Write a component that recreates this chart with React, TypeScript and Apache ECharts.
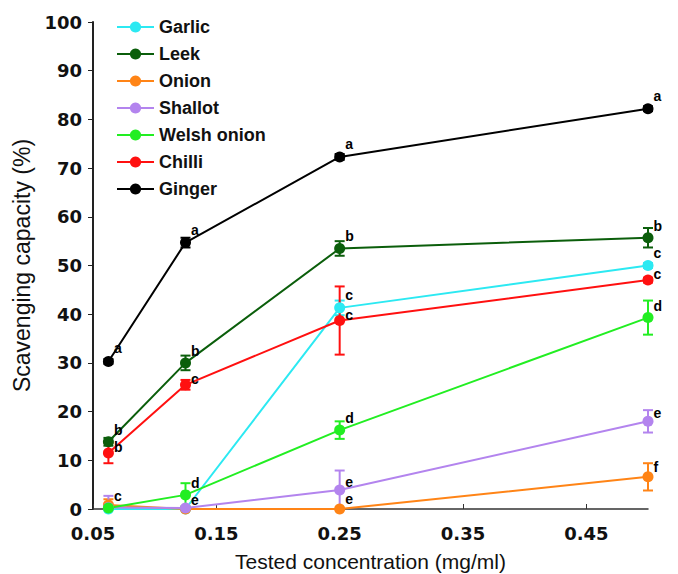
import React, { useEffect, useRef } from 'react';
import * as echarts from 'echarts';

const concentrations = [0.0625, 0.125, 0.25, 0.5];
const seriesNames = ['Garlic', 'Leek', 'Onion', 'Shallot', 'Welsh onion', 'Chilli', 'Ginger'];
const seriesColors = ['#2ce9f2', '#0b5e0b', '#ff8416', '#b384ee', '#22ee22', '#ff1010', '#000000'];

const garlic = [0, 0, 41.3, 50.0];
const leek = [13.8, 30.0, 53.5, 55.7];
const onion = [0.8, 0, 0, 6.6];
const shallot = [0.3, 0.2, 3.9, 18.0];
const welshOnion = [0.2, 2.9, 16.2, 39.3];
const chilli = [11.5, 25.5, 38.7, 47.0];
const ginger = [30.3, 54.7, 72.3, 82.2];

const garlicErr = [0, 0, 1.5, 0.5];
const leekErr = [0.8, 1.5, 1.5, 2.0];
const onionErr = [1.2, 0, 0, 2.8];
const shallotErr = [2.4, 0.3, 4.0, 2.3];
const welshOnionErr = [0.3, 2.4, 1.8, 3.5];
const chilliErr = [2.1, 1.0, 7.0, 0.5];
const gingerErr = [0.5, 1.0, 0.6, 0.5];

const garlicLetters = ['', '', 'c', 'c'];
const leekLetters = ['b', 'b', 'b', 'b'];
const onionLetters = ['', '', 'e', 'f'];
const shallotLetters = ['', 'e', 'e', 'e'];
const welshOnionLetters = ['c', 'd', 'd', 'd'];
const chilliLetters = ['b', 'c', 'c', 'c'];
const gingerLetters = ['a', 'a', 'a', 'a'];

const xTickValues = [0.05, 0.15, 0.25, 0.35, 0.45];

const allValues = [garlic, leek, onion, shallot, welshOnion, chilli, ginger];
const allErrors = [garlicErr, leekErr, onionErr, shallotErr, welshOnionErr, chilliErr, gingerErr];
const allLetters = [garlicLetters, leekLetters, onionLetters, shallotLetters, welshOnionLetters, chilliLetters, gingerLetters];

const FONT = 'Liberation Sans, Arial, sans-serif';
const TICK_FONT = 'DejaVu Sans, sans-serif';

export default function App() {
  const ref = useRef<HTMLDivElement>(null);
  useEffect(() => {
    if (!ref.current) return;
    const chart = echarts.init(ref.current, undefined, { renderer: 'svg' });
    // vertical label lift per series (style)
    const labelLift = [-13, -12, -10, -8, -12, -6, -13];

    const errorSeries = seriesNames.map((name, i) => ({
      name: name + ' error',
      type: 'custom',
      clip: false,
      z: 3,
      data: concentrations
        .map((x, j) => [x, Math.max(0, allValues[i][j] - allErrors[i][j]), allValues[i][j] + allErrors[i][j], allErrors[i][j]])
        .filter((d) => d[3] > 0),
      encode: { x: 0, y: [1, 2] },
      renderItem: (params: any, api: any) => {
        const x = api.value(0);
        const lo = api.coord([x, api.value(1)]);
        const hi = api.coord([x, api.value(2)]);
        const cap = 5;
        const style = { stroke: seriesColors[i], lineWidth: 2 };
        const children: any[] = [
          { type: 'line', shape: { x1: lo[0], y1: lo[1], x2: hi[0], y2: hi[1] }, style },
          { type: 'line', shape: { x1: hi[0] - cap, y1: hi[1], x2: hi[0] + cap, y2: hi[1] }, style },
        ];
        if (api.value(1) > 0) {
          children.push({ type: 'line', shape: { x1: lo[0] - cap, y1: lo[1], x2: lo[0] + cap, y2: lo[1] }, style });
        }
        return { type: 'group', children };
      },
    }));

    const lineSeries = seriesNames.map((name, i) => ({
      name,
      type: 'line',
      z: 4,
      data: concentrations.map((x, j) => [x, allValues[i][j]]),
      symbol: 'circle',
      symbolSize: 11,
      color: seriesColors[i],
      lineStyle: { width: 2, color: seriesColors[i] },
      itemStyle: { color: seriesColors[i] },
      label: {
        show: true,
        position: 'right',
        distance: 0,
        offset: [0, labelLift[i]],
        color: '#000',
        fontFamily: FONT,
        fontWeight: 'bold',
        fontSize: 14,
        formatter: (p: any) => allLetters[i][p.dataIndex] || '',
      },
    }));

    chart.setOption({
      animation: false,
      backgroundColor: '#fff',
      grid: { left: 93, right: 30, top: 22, bottom: 65, outerBoundsMode: 'none', containLabel: false },
      legend: {
        data: seriesNames,
        orient: 'vertical',
        left: 111,
        top: 13,
        itemWidth: 37,
        itemHeight: 14,
        itemGap: 9,
        textStyle: { fontFamily: FONT, fontWeight: 'bold', fontSize: 18, color: '#111' },
      },
      xAxis: {
        type: 'value',
        min: 0.05,
        max: 0.5,
        name: 'Tested concentration (mg/ml)',
        nameLocation: 'middle',
        nameGap: 42,
        nameTextStyle: { fontFamily: FONT, fontSize: 21, color: '#111' },
        axisLine: { show: true, lineStyle: { color: '#333', width: 1.5 } },
        axisTick: { show: true, inside: true, length: 5, customValues: xTickValues, lineStyle: { color: '#333' } },
        axisLabel: {
          customValues: xTickValues,
          margin: 15,
          fontFamily: TICK_FONT,
          fontWeight: 'bold',
          fontSize: 18,
          color: '#111',
          formatter: (v: number) => v.toFixed(2),
        },
        splitLine: { show: false },
      },
      yAxis: {
        type: 'value',
        min: 0,
        max: 100,
        interval: 10,
        name: 'Scavenging capacity (%)',
        nameLocation: 'middle',
        nameGap: 55,
        nameTextStyle: { fontFamily: FONT, fontSize: 23, color: '#111' },
        axisLine: { show: true, lineStyle: { color: '#222', width: 2 } },
        axisTick: { show: true, inside: false, length: 5, lineStyle: { color: '#222' } },
        axisLabel: { margin: 11, fontFamily: TICK_FONT, fontWeight: 'bold', fontSize: 18, color: '#111' },
        splitLine: { show: false },
      },
      series: [...errorSeries, ...lineSeries],
    });
    return () => chart.dispose();
  }, []);
  return <div ref={ref} style={{ width: 678, height: 574, position: 'absolute', left: 0, top: 0 }} />;
}
